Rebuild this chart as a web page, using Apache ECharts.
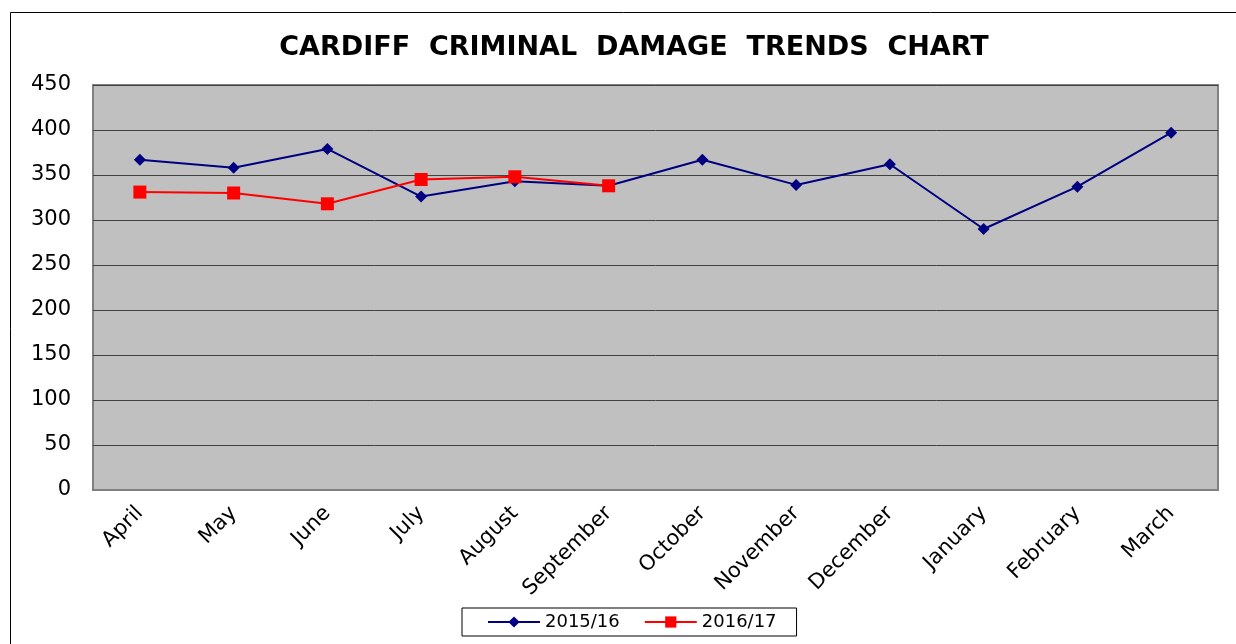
<!DOCTYPE html>
<html>
<head>
<meta charset="utf-8">
<script src="https://cdn.jsdelivr.net/npm/echarts@6/dist/echarts.min.js"></script>
<style>
html,body{margin:0;padding:0;background:#fff;}
#chart{width:1236px;height:644px;}
</style>
</head>
<body>
<div id="chart"></div>
<script>
const categories = ['April','May','June','July','August','September','October','November','December','January','February','March'];
const series2015 = [367, 358, 379, 326, 343, 338, 367, 339, 362, 290, 337, 397];
const series2016 = [331, 330, 318, 345, 348, 338];
const yTicks = {min: 0, max: 450, interval: 50};

const FONT = 'DejaVu Sans, Verdana, sans-serif';
const chart = echarts.init(document.getElementById('chart'), null, {renderer: 'canvas'});
chart.setOption({
  backgroundColor: '#ffffff',
  animation: false,
  textStyle: {fontFamily: FONT},
  title: {
    text: 'CARDIFF  CRIMINAL  DAMAGE  TRENDS  CHART',
    left: 629, top: 29, textAlign: 'center',
    textStyle: {fontSize: 27, fontWeight: 'bold', color: '#000', fontFamily: FONT}
  },
  graphic: [{
    type: 'rect', shape: {x: 10.5, y: 12.5, width: 1240, height: 640},
    style: {fill: 'none', stroke: '#000', lineWidth: 1}, z: -1
  }],
  legend: {
    left: 462, top: 608,
    padding: [5, 20, 5, 25],
    borderColor: '#000', borderWidth: 1,
    itemWidth: 52, itemHeight: 14, itemGap: 24,
    textStyle: {fontSize: 18, color: '#000', fontFamily: FONT},
    data: ['2015/16', '2016/17']
  },
  grid: {
    left: 93, top: 85, width: 1125, height: 405,
    show: true, backgroundColor: '#C0C0C0', borderColor: '#808080', borderWidth: 2,
    containLabel: false
  },
  xAxis: {
    type: 'category', data: categories, boundaryGap: true,
    axisLine: {show: true, lineStyle: {color: '#808080', width: 2}},
    axisTick: {show: false},
    axisLabel: {rotate: 45, fontSize: 21, color: '#000', margin: 20, interval: 0}
  },
  yAxis: {
    type: 'value', min: yTicks.min, max: yTicks.max, interval: yTicks.interval,
    axisLine: {show: false}, axisTick: {show: false},
    axisLabel: {fontSize: 21, color: '#000', margin: 22},
    splitLine: {show: true, lineStyle: {color: '#404040', width: 1}}
  },
  series: [
    {
      name: '2015/16', type: 'line', data: series2015,
      symbol: 'diamond', symbolSize: 12,
      lineStyle: {color: '#000080', width: 2},
      itemStyle: {color: '#000080'}
    },
    {
      name: '2016/17', type: 'line', data: series2016,
      symbol: 'rect', symbolSize: 13,
      lineStyle: {color: '#FF0000', width: 2},
      itemStyle: {color: '#FF0000'}
    }
  ]
});
</script>
</body>
</html>
